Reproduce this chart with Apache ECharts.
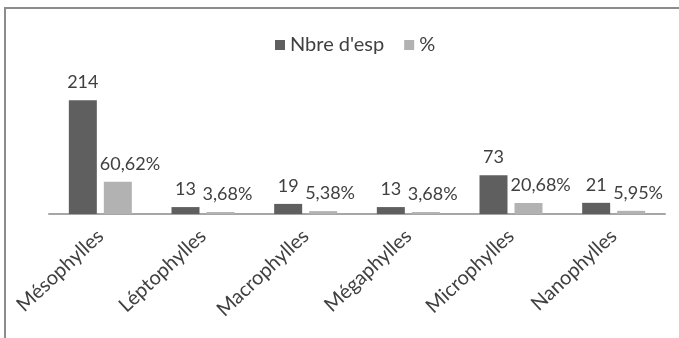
<!DOCTYPE html>
<html>
<head>
<meta charset="utf-8">
<script src="https://cdn.jsdelivr.net/npm/echarts@6/dist/echarts.min.js"></script>
<style>
  html, body { margin: 0; padding: 0; background: #fff; }
  #chart { width: 679px; height: 338px; }
</style>
</head>
<body>
<div id="chart"></div>
<script>
// Leaf-size classes and their species counts / shares
const categories = ['Mésophylles', 'Léptophylles', 'Macrophylles', 'Mégaphylles', 'Microphylles', 'Nanophylles'];
const nbreEsp = [214, 13, 19, 13, 73, 21];
const pourcent = [60.62, 3.68, 5.38, 3.68, 20.68, 5.95];

const FONT = 'Lato, "Open Sans", sans-serif';
const TEXT = '#404040';

const chart = echarts.init(document.getElementById('chart'), null, { renderer: 'canvas' });

chart.setOption({
  animation: false,
  backgroundColor: '#ffffff',
  textStyle: { fontFamily: FONT },
  legend: {
    left: 270,
    top: 30,
    icon: 'rect',
    itemWidth: 10,
    itemHeight: 10,
    itemGap: 20,
    textStyle: { fontFamily: FONT, fontSize: 20, color: TEXT },
    data: ["Nbre d'esp", '%']
  },
  grid: { left: 49, right: 14, top: 81, bottom: 124, containLabel: false },
  xAxis: {
    type: 'category',
    data: categories,
    axisLine: { lineStyle: { color: '#a6a6a6', width: 2 } },
    axisTick: { show: false },
    axisLabel: {
      rotate: 43,
      margin: 19,
      interval: 0,
      fontFamily: FONT,
      fontSize: 20,
      color: TEXT
    }
  },
  yAxis: {
    type: 'value',
    min: 0,
    max: 250,
    show: false,
    splitLine: { show: false }
  },
  graphic: [{
    type: 'polyline',
    silent: true,
    shape: { points: [[5, 338], [5, 8], [679, 8]] },
    style: { stroke: '#8c8c8c', lineWidth: 2, fill: null }
  }],
  series: [
    {
      name: "Nbre d'esp",
      type: 'bar',
      data: nbreEsp,
      barWidth: 28,
      barGap: '25%',
      itemStyle: { color: '#5f5f5f' },
      label: {
        show: true,
        position: 'top',
        distance: 9,
        fontFamily: FONT,
        fontSize: 18,
        color: TEXT
      }
    },
    {
      name: '%',
      type: 'bar',
      data: pourcent,
      barWidth: 28,
      itemStyle: { color: '#b2b2b2' },
      label: {
        show: true,
        position: 'top',
        distance: 9,
        align: 'left',
        offset: [-18, 0],
        fontFamily: FONT,
        fontSize: 18,
        color: TEXT,
        formatter: p => p.value.toFixed(2).replace('.', ',') + '%'
      }
    }
  ]
});
</script>
</body>
</html>
